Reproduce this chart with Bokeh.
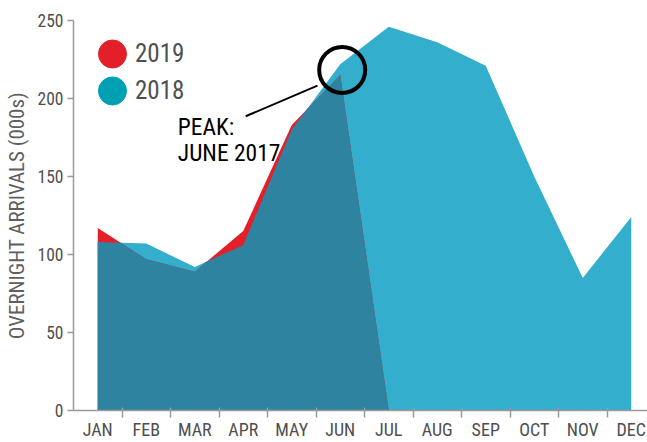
import numpy as np
from bokeh.plotting import figure
from bokeh.models import Range1d, FixedTicker, Legend, LegendItem, Label
from bokeh.embed import file_html
from bokeh.resources import INLINE

# ---------------- data ----------------
months = ["JAN", "FEB", "MAR", "APR", "MAY", "JUN", "JUL", "AUG", "SEP", "OCT", "NOV", "DEC"]
arrivals_2018 = [108, 107, 92, 106, 180, 222, 246, 236, 221, 150, 85, 124]
arrivals_2019 = [117, 97, 89, 115, 183, 215, 0]
y_ticks = [0, 50, 100, 150, 200, 250]
y_title = "OVERNIGHT ARRIVALS (000s)"

# annotation (data units)
peak_text = ["PEAK:", "JUNE 2017"]
peak_text_x = 2.65
peak_text_y = [181.7, 165.0]
peak_circle = (6.04, 218.3)
leader = (4.05, 188.6, 5.53, 208.3)

# ---------------- styles ----------------
FONT = "'Roboto Condensed', Roboto, sans-serif"
TEAL = "#33aecd"
RED = "#e3202a"
DARK = "#2e83a0"
LEG_TEAL = "#00a0b4"
GREY_TXT = "#4f4f4f"
AXIS_COL = "#9a9a9a"

x18 = list(range(1, len(arrivals_2018) + 1))
x19 = list(range(1, len(arrivals_2019) + 1))


def lower_envelope(x, a, b):
    """Polyline of min(a, b) including the points where the two lines cross."""
    xs, ys = [], []
    for i in range(len(x)):
        if i > 0:
            d0 = a[i - 1] - b[i - 1]
            d1 = a[i] - b[i]
            if d0 * d1 < 0:
                t = d0 / (d0 - d1)
                xs.append(x[i - 1] + t * (x[i] - x[i - 1]))
                ys.append(a[i - 1] + t * (a[i] - a[i - 1]))
        xs.append(x[i])
        ys.append(min(a[i], b[i]))
    return xs, ys


ox, oy = lower_envelope(x19, arrivals_2019, arrivals_2018[:len(arrivals_2019)])

p = figure(width=647, height=442,
           x_range=Range1d(0.5, 12.335), y_range=Range1d(0, 250),
           output_backend="svg", toolbar_location=None,
           min_border_left=73, min_border_right=0, min_border_top=20, min_border_bottom=0)

p.outline_line_color = None
p.xgrid.visible = False
p.ygrid.visible = False
p.background_fill_color = "white"
p.border_fill_color = "white"

p.varea(x=x18, y1=0, y2=arrivals_2018, fill_color=TEAL)
p.varea(x=x19, y1=0, y2=arrivals_2019, fill_color=RED)
p.varea(x=ox, y1=0, y2=oy, fill_color=DARK)

# x axis: labels at month centres, tick marks at month boundaries
xa = p.xaxis[0]
xa.ticker = FixedTicker(ticks=x18, minor_ticks=[i + 0.5 for i in x18[:-1]])
xa.major_label_overrides = {i: m for i, m in zip(x18, months)}
xa.major_tick_out = 0
xa.major_tick_in = 0
xa.minor_tick_in = 3
xa.minor_tick_out = 7
xa.minor_tick_line_color = AXIS_COL
xa.minor_tick_line_width = 1.5
xa.axis_line_color = AXIS_COL
xa.axis_line_width = 1.5
xa.major_label_standoff = 1
xa.major_label_text_font = FONT
xa.major_label_text_font_size = "18px"
xa.major_label_text_color = GREY_TXT

ya = p.yaxis[0]
ya.ticker = FixedTicker(ticks=y_ticks)
ya.major_tick_out = 6
ya.major_tick_in = 0
ya.minor_tick_out = 0
ya.minor_tick_in = 0
ya.major_tick_line_color = AXIS_COL
ya.major_tick_line_width = 1.5
ya.axis_line_color = AXIS_COL
ya.axis_line_width = 1.5
ya.major_label_standoff = 4
ya.major_label_text_font = FONT
ya.major_label_text_font_size = "17.5px"
ya.major_label_text_color = GREY_TXT
ya.axis_label = y_title
ya.axis_label_text_font = FONT
ya.axis_label_text_font_size = "21px"
ya.axis_label_text_font_style = "normal"
ya.axis_label_text_color = "#5f5f5f"
ya.axis_label_standoff = 6

# peak annotation
p.segment(x0=[leader[0]], y0=[leader[1]], x1=[leader[2]], y1=[leader[3]],
          line_color="black", line_width=2)
p.scatter(x=[peak_circle[0]], y=[peak_circle[1]], marker="circle", size=46,
          fill_color=None, line_color="black", line_width=4)
for txt, ty in zip(peak_text, peak_text_y):
    p.add_layout(Label(x=peak_text_x, y=ty, text=txt, text_font=FONT,
                       text_font_size="23.5px", text_color="black",
                       text_baseline="alphabetic", text_align="left"))

# legend with large dots (glyph-only renderers, nothing drawn in the plot)
r19 = p.ellipse(x=[np.nan], y=[np.nan], width=10, height=10,
                width_units="screen", height_units="screen",
                fill_color=RED, line_color=RED)
r18 = p.ellipse(x=[np.nan], y=[np.nan], width=10, height=10,
                width_units="screen", height_units="screen",
                fill_color=LEG_TEAL, line_color=LEG_TEAL)
legend = Legend(items=[LegendItem(label="2019", renderers=[r19]),
                       LegendItem(label="2018", renderers=[r18])],
                location="top_left", margin=16, padding=0,
                glyph_width=46, glyph_height=35, spacing=2, label_standoff=0,
                border_line_color=None, background_fill_alpha=0,
                label_text_font=FONT, label_text_font_size="25px",
                label_text_color=GREY_TXT)
p.add_layout(legend)

open("out.html", "w").write(file_html(p, INLINE))
